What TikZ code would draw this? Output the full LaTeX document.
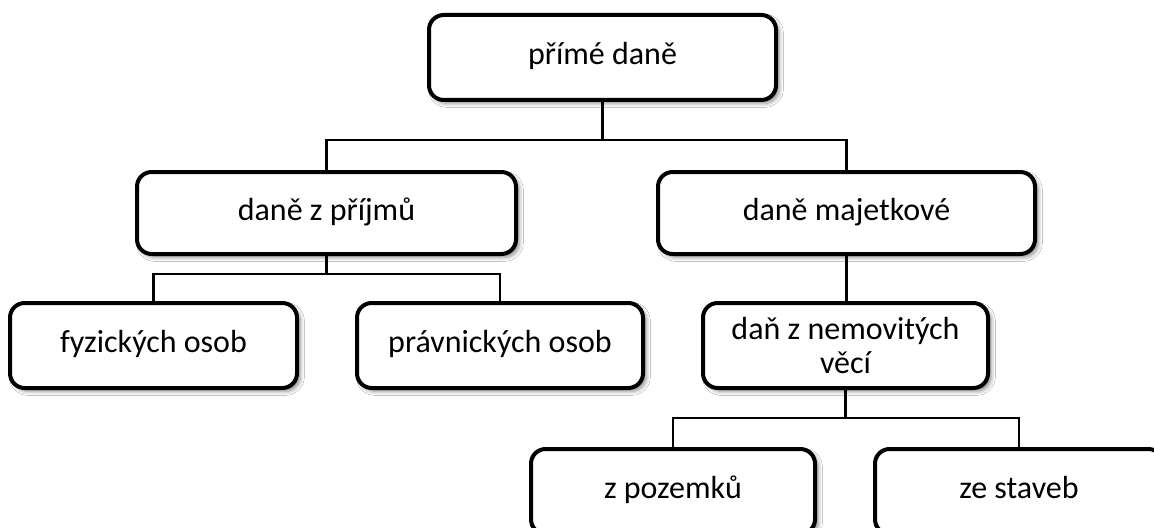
\documentclass[tikz,border=0pt]{standalone}
\usepackage{fontspec}
\setmainfont{Carlito}
\usetikzlibrary{shadows.blur}
\tikzset{
  box/.style={draw=black, line width=3pt, rounded corners=11pt, fill=white,
    align=center, inner sep=0pt,
    font=\fontsize{24}{26}\selectfont,
    blur shadow={shadow xshift=2.5pt, shadow yshift=-2.5pt, shadow blur radius=3pt, shadow opacity=45}},
  oneline/.style={text height=17pt, text depth=5.8pt},
  conn/.style={draw=black, line width=1.9pt}
}
\begin{document}
\begin{tikzpicture}[x=0.75pt, y=-0.75pt]
\useasboundingbox (0,0) rectangle (1154,528);
\fill[white] (0,0) rectangle (1154,528);
\coordinate (b1) at (0,140);
\coordinate (b2) at (0,274);
\coordinate (b3) at (0,418);
\node[box, oneline, minimum width={347*0.75pt}, minimum height={85*0.75pt}] (top) at (602.5,57.5) {přímé daně};
\node[box, oneline, minimum width={379*0.75pt}, minimum height={82*0.75pt}] (dzp) at (326.5,213) {daně z příjmů};
\node[box, oneline, minimum width={377*0.75pt}, minimum height={82*0.75pt}] (dm) at (846.5,213) {daně majetkové};
\node[box, oneline, minimum width={287*0.75pt}, minimum height={85*0.75pt}] (fyz) at (153.5,345.5) {fyzických osob};
\node[box, oneline, minimum width={286*0.75pt}, minimum height={85*0.75pt}] (prav) at (500,345.5) {právnických osob};
\node[box, minimum width={285*0.75pt}, minimum height={85*0.75pt}] (dnv) at (845.5,345.5) {daň z nemovitých\\věcí};
\node[box, oneline, minimum width={284*0.75pt}, minimum height={85*0.75pt}] (zp) at (673,491.5) {z pozemků};
\node[box, oneline, minimum width={288*0.75pt}, minimum height={85*0.75pt}] (zs) at (1019,491.5) {ze staveb};
\draw[conn] (top.south) -- (top.south |- b1) -| (dzp.north);
\draw[conn] (top.south |- b1) -| (dm.north);
\draw[conn] (dzp.south) -- (dzp.south |- b2) -| (fyz.north);
\draw[conn] (dzp.south |- b2) -| (prav.north);
\draw[conn] (dm.south) -- (dm.south |- dnv.north);
\draw[conn] (dnv.south) -- (dnv.south |- b3) -| (zp.north);
\draw[conn] (dnv.south |- b3) -| (zs.north);
\end{tikzpicture}
\end{document}
